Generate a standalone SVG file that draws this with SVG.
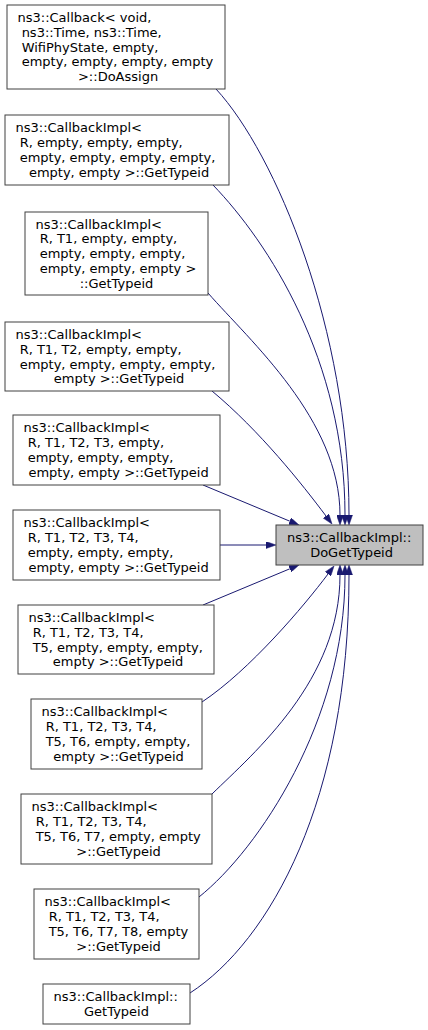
<svg xmlns="http://www.w3.org/2000/svg" width="428" height="1030" viewBox="0 0 428 1030">
<style>
.box{fill:#ffffff;stroke:#404040;stroke-width:1}
.cur{fill:#bfbfbf;stroke:#404040;stroke-width:1}
text{font-family:"DejaVu Sans","Liberation Sans",sans-serif;font-size:13px;fill:#000000}
.m{text-anchor:middle}
.e{fill:none;stroke:#191970;stroke-width:1}
</style>
<defs>
<marker id="ah" viewBox="0 0 10 7" refX="0" refY="3.5" markerWidth="10" markerHeight="7" markerUnits="userSpaceOnUse" orient="auto">
<path d="M0,0 L10,3.5 L0,7 z" fill="#191970" stroke="#191970" stroke-width="0.5"/>
</marker>
</defs>
<rect width="428" height="1030" fill="#ffffff"/>
<g id="connectors">
<path class="e" marker-end="url(#ah)" d="M216,89 C276,154 349,330 349,515"/>
<path class="e" marker-end="url(#ah)" d="M213,185 C268,242 345,360 345,515"/>
<path class="e" marker-end="url(#ah)" d="M208,293 C250,341 340,420 340,515"/>
<path class="e" marker-end="url(#ah)" d="M212,391 C260,431 302,484 326,516"/>
<path class="e" marker-end="url(#ah)" d="M203,485 L289.8,521.2"/>
<path class="e" marker-end="url(#ah)" d="M220,545 L266,545"/>
<path class="e" marker-end="url(#ah)" d="M203,605 L289.8,568.8"/>
<path class="e" marker-end="url(#ah)" d="M202,702 C250,670 304,606 328,574"/>
<path class="e" marker-end="url(#ah)" d="M212,794 C255,752 340,680 340,575"/>
<path class="e" marker-end="url(#ah)" d="M199,897 C259,849 345,720 345,575"/>
<path class="e" marker-end="url(#ah)" d="M190,993 C270,941 349,800 349,575"/>
</g>
<g id="target">
<rect class="cur" x="276" y="525" width="147" height="40"/>
<text x="287" y="542.2">ns3::CallbackImpl::</text>
<text class="m" x="349.5" y="557" xml:space="preserve"> DoGetTypeid</text>
</g>
<g id="n1">
<rect class="box" x="7" y="5" width="218" height="84"/>
<text x="17.5" y="22" xml:space="preserve">ns3::Callback&lt; void,</text>
<text x="17.5" y="36.8" xml:space="preserve"> ns3::Time, ns3::Time,</text>
<text x="17.5" y="51.6" xml:space="preserve"> WifiPhyState, empty,</text>
<text x="17.5" y="66.4" xml:space="preserve"> empty, empty, empty, empty</text>
<text class="m" x="116" y="81.2" xml:space="preserve"> &gt;::DoAssign</text>
</g>
<g id="n2">
<rect class="box" x="5" y="115" width="224" height="70"/>
<text x="15.5" y="132.4" xml:space="preserve">ns3::CallbackImpl&lt;</text>
<text x="15.5" y="147.2" xml:space="preserve"> R, empty, empty, empty,</text>
<text x="15.5" y="162" xml:space="preserve"> empty, empty, empty, empty,</text>
<text class="m" x="117" y="176.8" xml:space="preserve"> empty, empty &gt;::GetTypeid</text>
</g>
<g id="n3">
<rect class="box" x="25" y="212" width="183" height="83"/>
<text x="35.5" y="228.5" xml:space="preserve">ns3::CallbackImpl&lt;</text>
<text x="35.5" y="243.3" xml:space="preserve"> R, T1, empty, empty,</text>
<text x="35.5" y="258.1" xml:space="preserve"> empty, empty, empty,</text>
<text x="35.5" y="272.9" xml:space="preserve"> empty, empty, empty &gt;</text>
<text class="m" x="116.5" y="287.7" xml:space="preserve">::GetTypeid</text>
</g>
<g id="n4">
<rect class="box" x="5" y="322" width="224" height="69"/>
<text x="15.5" y="338.9" xml:space="preserve">ns3::CallbackImpl&lt;</text>
<text x="15.5" y="353.7" xml:space="preserve"> R, T1, T2, empty, empty,</text>
<text x="15.5" y="368.5" xml:space="preserve"> empty, empty, empty, empty,</text>
<text class="m" x="117" y="383.3" xml:space="preserve"> empty &gt;::GetTypeid</text>
</g>
<g id="n5">
<rect class="box" x="13" y="415" width="207" height="70"/>
<text x="23.5" y="432.4" xml:space="preserve">ns3::CallbackImpl&lt;</text>
<text x="23.5" y="447.2" xml:space="preserve"> R, T1, T2, T3, empty,</text>
<text x="23.5" y="462" xml:space="preserve"> empty, empty, empty,</text>
<text class="m" x="116.5" y="476.8" xml:space="preserve"> empty, empty &gt;::GetTypeid</text>
</g>
<g id="n6">
<rect class="box" x="13" y="510" width="207" height="70"/>
<text x="23.5" y="527.4" xml:space="preserve">ns3::CallbackImpl&lt;</text>
<text x="23.5" y="542.2" xml:space="preserve"> R, T1, T2, T3, T4,</text>
<text x="23.5" y="557" xml:space="preserve"> empty, empty, empty,</text>
<text class="m" x="116.5" y="571.8" xml:space="preserve"> empty, empty &gt;::GetTypeid</text>
</g>
<g id="n7">
<rect class="box" x="18" y="605" width="196" height="69"/>
<text x="28.5" y="621.9" xml:space="preserve">ns3::CallbackImpl&lt;</text>
<text x="28.5" y="636.7" xml:space="preserve"> R, T1, T2, T3, T4,</text>
<text x="28.5" y="651.5" xml:space="preserve"> T5, empty, empty, empty,</text>
<text class="m" x="116" y="666.3" xml:space="preserve"> empty &gt;::GetTypeid</text>
</g>
<g id="n8">
<rect class="box" x="31" y="699" width="171" height="70"/>
<text x="41.5" y="716.4" xml:space="preserve">ns3::CallbackImpl&lt;</text>
<text x="41.5" y="731.2" xml:space="preserve"> R, T1, T2, T3, T4,</text>
<text x="41.5" y="746" xml:space="preserve"> T5, T6, empty, empty,</text>
<text class="m" x="116.5" y="760.8" xml:space="preserve"> empty &gt;::GetTypeid</text>
</g>
<g id="n9">
<rect class="box" x="21" y="794" width="191" height="70"/>
<text x="31.5" y="811.4" xml:space="preserve">ns3::CallbackImpl&lt;</text>
<text x="31.5" y="826.2" xml:space="preserve"> R, T1, T2, T3, T4,</text>
<text x="31.5" y="841" xml:space="preserve"> T5, T6, T7, empty, empty</text>
<text class="m" x="116.5" y="855.8" xml:space="preserve"> &gt;::GetTypeid</text>
</g>
<g id="n10">
<rect class="box" x="34" y="889" width="165" height="70"/>
<text x="44.5" y="906.4" xml:space="preserve">ns3::CallbackImpl&lt;</text>
<text x="44.5" y="921.2" xml:space="preserve"> R, T1, T2, T3, T4,</text>
<text x="44.5" y="936" xml:space="preserve"> T5, T6, T7, T8, empty</text>
<text class="m" x="116.5" y="950.8" xml:space="preserve"> &gt;::GetTypeid</text>
</g>
<g id="n11">
<rect class="box" x="43" y="984" width="147" height="40"/>
<text x="53.5" y="1001.2" xml:space="preserve">ns3::CallbackImpl::</text>
<text class="m" x="116.5" y="1016" xml:space="preserve">GetTypeid</text>
</g>
</svg>
